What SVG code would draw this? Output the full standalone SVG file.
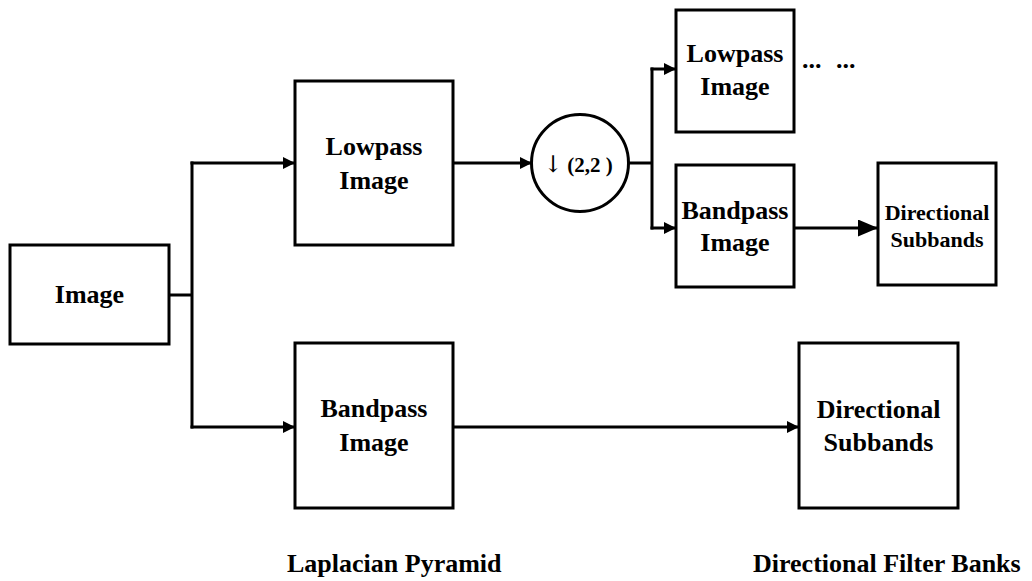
<svg xmlns="http://www.w3.org/2000/svg" width="1032" height="581" viewBox="0 0 1032 581">
<defs>
<style>
.box{fill:#fff;stroke:#000;stroke-width:3}
.ln{fill:none;stroke:#000;stroke-width:3}
.t{font-family:"Liberation Serif","Times New Roman",serif;font-weight:bold;font-size:26px;text-anchor:middle;fill:#000}
.ts{font-size:22px}
.lab{font-family:"Liberation Serif","Times New Roman",serif;font-weight:bold;font-size:26px;fill:#000}
</style>
<marker id="ah" markerUnits="userSpaceOnUse" markerWidth="13" markerHeight="13" refX="12" refY="6" orient="auto">
<path d="M0,0 L12,6 L0,12 Z" fill="#000"/>
</marker>
<marker id="ahL" markerUnits="userSpaceOnUse" markerWidth="21" markerHeight="18" refX="20" refY="8.5" orient="auto">
<path d="M0,0 L20,8.5 L0,17 Z" fill="#000"/>
</marker>
</defs>
<rect width="1032" height="581" fill="#fff"/>
<g id="connectors">
<line class="ln" x1="169" y1="295" x2="192" y2="295"/>
<line class="ln" x1="192" y1="161.5" x2="192" y2="428.5"/>
<polyline class="ln" points="190.5,163 295,163" marker-end="url(#ah)"/>
<polyline class="ln" points="190.5,427 295,427" marker-end="url(#ah)"/>
<line class="ln" x1="453" y1="163" x2="532" y2="163" marker-end="url(#ah)"/>
<line class="ln" x1="628" y1="163" x2="652" y2="163"/>
<line class="ln" x1="652" y1="67.5" x2="652" y2="229.5"/>
<line class="ln" x1="650.5" y1="69" x2="676" y2="69" marker-end="url(#ah)"/>
<line class="ln" x1="650.5" y1="228" x2="676" y2="228" marker-end="url(#ah)"/>
<line class="ln" x1="794" y1="228" x2="878" y2="228" marker-end="url(#ahL)"/>
<line class="ln" x1="453" y1="427" x2="799" y2="427" marker-end="url(#ah)"/>
</g>
<g id="image">
<rect class="box" x="10" y="245" width="159" height="99"/>
<text class="t" x="89.5" y="303">Image</text>
</g>
<g id="lowpass1">
<rect class="box" x="295" y="81" width="158" height="164"/>
<text class="t" x="374" y="155">Lowpass</text>
<text class="t" x="374" y="189">Image</text>
</g>
<g id="bandpass1">
<rect class="box" x="295" y="343" width="158" height="165"/>
<text class="t" x="374" y="417">Bandpass</text>
<text class="t" x="374" y="451">Image</text>
</g>
<g id="downsample">
<circle class="box" cx="580" cy="163" r="48.5"/>
<text x="553" y="172" font-family="'DejaVu Serif','Liberation Serif',serif" font-size="23" text-anchor="middle">↓</text>
<text class="t" x="590" y="172" style="font-size:21px">(2,2 )</text>
</g>
<g id="lowpass2">
<rect class="box" x="676" y="10" width="118" height="122"/>
<text class="t" x="735" y="62">Lowpass</text>
<text class="t" x="735" y="95">Image</text>
</g>
<text class="lab" x="802" y="68" word-spacing="8">... ...</text>
<g id="bandpass2">
<rect class="box" x="676" y="165" width="118" height="122"/>
<text class="t" x="735" y="219">Bandpass</text>
<text class="t" x="735" y="251">Image</text>
</g>
<g id="subbands2">
<rect class="box" x="878" y="163" width="118" height="122"/>
<text class="t ts" x="937" y="220">Directional</text>
<text class="t ts" x="937" y="247">Subbands</text>
</g>
<g id="subbands1">
<rect class="box" x="799" y="343" width="159" height="165"/>
<text class="t" x="878.5" y="418">Directional</text>
<text class="t" x="878.5" y="451">Subbands</text>
</g>
<text class="lab" x="287" y="572">Laplacian Pyramid</text>
<text class="lab" x="753" y="572">Directional Filter Banks</text>
</svg>
